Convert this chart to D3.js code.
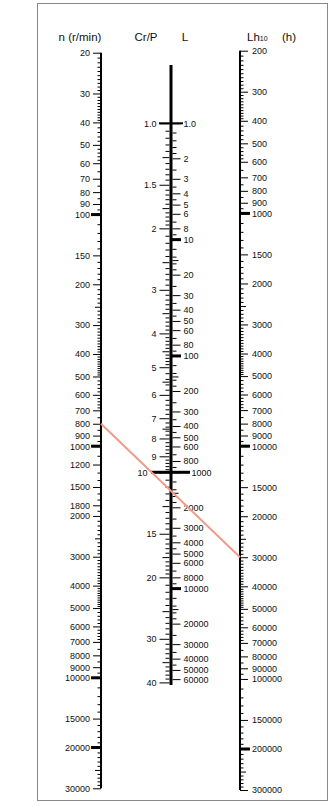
<!DOCTYPE html>
<html><head><meta charset="utf-8">
<script src="https://cdn.jsdelivr.net/npm/d3@7"></script>
<style>
html,body{margin:0;padding:0;background:#fff;}
svg{display:block;}
text{font-family:"Liberation Sans",Arial,Helvetica,sans-serif;fill:#111;}
</style></head>
<body>
<svg id="chart" width="332" height="808"></svg>
<script>
// ---- data ----
const nLabels = [20,30,40,50,60,70,80,90,100,150,200,300,400,500,600,700,800,900,1000,1200,1500,1800,2000,3000,4000,5000,6000,7000,8000,9000,10000,15000,20000,30000];
const nBold = [100,1000,10000,20000];
const nMedium = [250,2500,25000];
const nMinorSegs = [[20,40,1],[40,60,2],[60,100,5],[100,500,10],[500,700,20],[700,1000,50],[1000,5000,100],[5000,7000,200],[7000,10000,500],[10000,30000,1000]];

const crLabels = [1.0,1.5,2,3,4,5,6,7,8,9,10,15,20,30,40];
const crText = ["1.0","1.5","2","3","4","5","6","7","8","9","10","15","20","30","40"];
const crMedium = [1.25,1.75,2.5,3.5,4.5,5.5,7.5,12.5,17.5,25,35];
const crMinorSegs = [[1,2,0.05],[2,5,0.1],[5,10,0.2],[10,20,0.5],[20,40,1]];
const crCross = [1,10];

const lLabels = [1,2,3,4,5,6,8,10,20,30,40,50,60,80,100,200,300,400,500,600,800,1000,2000,3000,4000,5000,6000,8000,10000,20000,30000,40000,50000,60000];
const lText = ["1.0","2","3","4","5","6","8","10","20","30","40","50","60","80","100","200","300","400","500","600","800","1000","2000","3000","4000","5000","6000","8000","10000","20000","30000","40000","50000","60000"];
const lBold = [10,100,10000];
const lMedium = [15,150,1500,15000];
const lMinorSegs = [[1,2,0.2],[2,5,0.5],[5,10,1],[10,20,2],[20,50,5],[50,100,10],[100,200,20],[200,500,50],[500,1000,100],[1000,2000,200],[2000,5000,500],[5000,10000,1000],[10000,20000,2000],[20000,50000,5000],[50000,60000,10000]];

const lhLabels = [200,300,400,500,600,700,800,900,1000,1500,2000,3000,4000,5000,6000,7000,8000,9000,10000,15000,20000,30000,40000,50000,60000,70000,80000,90000,100000,150000,200000,300000];
const lhBold = [1000,10000,200000];
const lhMedium = [2500,25000,250000];
const lhMinorSegs = [[200,400,10],[400,600,20],[600,1000,50],[1000,5000,100],[5000,7000,200],[7000,10000,500],[10000,50000,1000],[50000,70000,2000],[70000,100000,5000],[100000,300000,10000]];

const example = {n: 800, lh: 30000};

// ---- helpers ----
function minors(segs, exclude){
  const ex = new Set(exclude.map(v => +v.toFixed(4)));
  const out = [];
  segs.forEach(([a,b,s]) => {
    const k = Math.round((b-a)/s);
    for(let i=0;i<=k;i++){
      const v = +(a + i*s).toFixed(4);
      if(!ex.has(v) && !out.includes(v)) out.push(v);
    }
  });
  return out;
}

const svg = d3.select("#chart");
const xN = 101, xC = 171, xLh = 240;

const yN = d3.scaleLog().domain([20,30000]).range([52.7,788.3]);
const yLh = d3.scaleLog().domain([200,300000]).range([50.7,790]);
const yC = d3.scaleLog().domain([1,40]).range([123.3,682.4]);
const yL = d3.scaleLog().domain([1,64000]).range([123.3,682.4]);

// frame
svg.append("rect").attr("x",37.5).attr("y",3.5).attr("width",290).attr("height",797)
  .attr("fill","none").attr("stroke","#888").attr("stroke-width",1);

function styleAxis(g, fs){
  g.selectAll("text").style("font-size", fs+"px").style("font-family",'"Liberation Sans",Arial,sans-serif').attr("fill","#111");
  g.selectAll(".tick line").attr("stroke","#000");
}

function scaleAxis(opts){
  const {x, y, side, labels, text, minor, medium, majorLen, minorLen, medLen, pad, domain, domainW} = opts;
  const mk = side === "left" ? d3.axisLeft : d3.axisRight;
  if(domainW > 0){
    svg.append("line").attr("x1",x).attr("x2",x)
      .attr("y1",y(domain[0])).attr("y2",y(domain[1]))
      .attr("stroke","#000").attr("stroke-width",domainW);
  }
  const gm = svg.append("g").attr("transform",`translate(${x},0)`)
    .call(mk(y).tickValues(minor).tickSize(minorLen).tickFormat(""));
  gm.select(".domain").remove(); styleAxis(gm,8);
  const gd = svg.append("g").attr("transform",`translate(${x},0)`)
    .call(mk(y).tickValues(medium).tickSize(medLen).tickFormat(""));
  gd.select(".domain").remove(); styleAxis(gd,8);
  const g = svg.append("g").attr("transform",`translate(${x},0)`)
    .call(mk(y).tickValues(labels).tickSize(majorLen).tickPadding(pad)
      .tickFormat((d,i) => text ? text[i] : String(d)));
  g.select(".domain").remove(); styleAxis(g,9);
  return g;
}

// n axis
scaleAxis({x:xN, y:yN, side:"left", labels:nLabels, text:null,
  minor:minors(nMinorSegs, nLabels.concat(nMedium)), medium:nMedium,
  majorLen:8, minorLen:3.5, medLen:6, pad:3, domain:[20,30000], domainW:2});
svg.selectAll(null).data(nBold).join("rect")
  .attr("x",xN-10).attr("width",10).attr("y",d=>yN(d)-1.5).attr("height",3).attr("fill","#000");

// Lh axis
scaleAxis({x:xLh, y:yLh, side:"right", labels:lhLabels, text:null,
  minor:minors(lhMinorSegs, lhLabels.concat(lhMedium)), medium:lhMedium,
  majorLen:8, minorLen:3.5, medLen:6, pad:4, domain:[200,300000], domainW:2});
svg.selectAll(null).data(lhBold).join("rect")
  .attr("x",xLh).attr("width",10).attr("y",d=>yLh(d)-1.5).attr("height",3).attr("fill","#000");

// central axis: Cr/P (left) and L (right)
svg.append("line").attr("x1",xC).attr("x2",xC).attr("y1",65).attr("y2",685)
  .attr("stroke","#000").attr("stroke-width",3);
const gC = scaleAxis({x:xC-1.5, y:yC, side:"left", labels:crLabels, text:crText,
  minor:minors(crMinorSegs, crLabels.concat(crMedium)), medium:crMedium,
  majorLen:10, minorLen:4, medLen:7, pad:3, domain:[1,1], domainW:0});
const gL = scaleAxis({x:xC+1.5, y:yL, side:"right", labels:lLabels, text:lText,
  minor:minors(lMinorSegs, lLabels.concat(lMedium)), medium:lMedium,
  majorLen:8, minorLen:4, medLen:6, pad:3, domain:[1,1], domainW:0});
// labels beside the long crossing tick at Cr/P = 10 / L = 1000
gC.selectAll(".tick").filter(d => d === 10).select("text").attr("x", -22);
gL.selectAll(".tick").filter(d => d === 1000).select("text").attr("x", 19);
svg.selectAll(null).data(lBold).join("rect")
  .attr("x",xC).attr("width",10).attr("y",d=>yL(d)-1.5).attr("height",3).attr("fill","#000");
svg.selectAll(null).data(crCross).join("rect")
  .attr("x",d => d===10 ? xC-20 : xC-12).attr("width",d => d===10 ? 39 : 24)
  .attr("y",d=>yC(d)-(d===10?1.5:1)).attr("height",d=>d===10?3:2).attr("fill","#000");

// titles
const tf = '"Liberation Sans",Arial,sans-serif';
svg.append("text").attr("x",80).attr("y",41).attr("text-anchor","middle").style("font-size","11.5px").style("font-family",tf).text("n (r/min)");
svg.append("text").attr("x",146).attr("y",41).attr("text-anchor","middle").style("font-size","11.5px").style("font-family",tf).text("Cr/P");
svg.append("text").attr("x",185).attr("y",41).attr("text-anchor","middle").style("font-size","11.5px").style("font-family",tf).text("L");
const lh = svg.append("text").attr("x",247).attr("y",41).style("font-size","11.5px").style("font-family",tf);
lh.append("tspan").text("Lh");
lh.append("tspan").style("font-size","7px").text("10");
svg.append("text").attr("x",282).attr("y",41).style("font-size","11.5px").style("font-family",tf).text("(h)");

// example line
svg.append("line")
  .attr("x1",xN).attr("y1",yN(example.n))
  .attr("x2",xLh).attr("y2",yLh(example.lh))
  .attr("stroke","#f29a8a").attr("stroke-width",2);
</script>
</body></html>
